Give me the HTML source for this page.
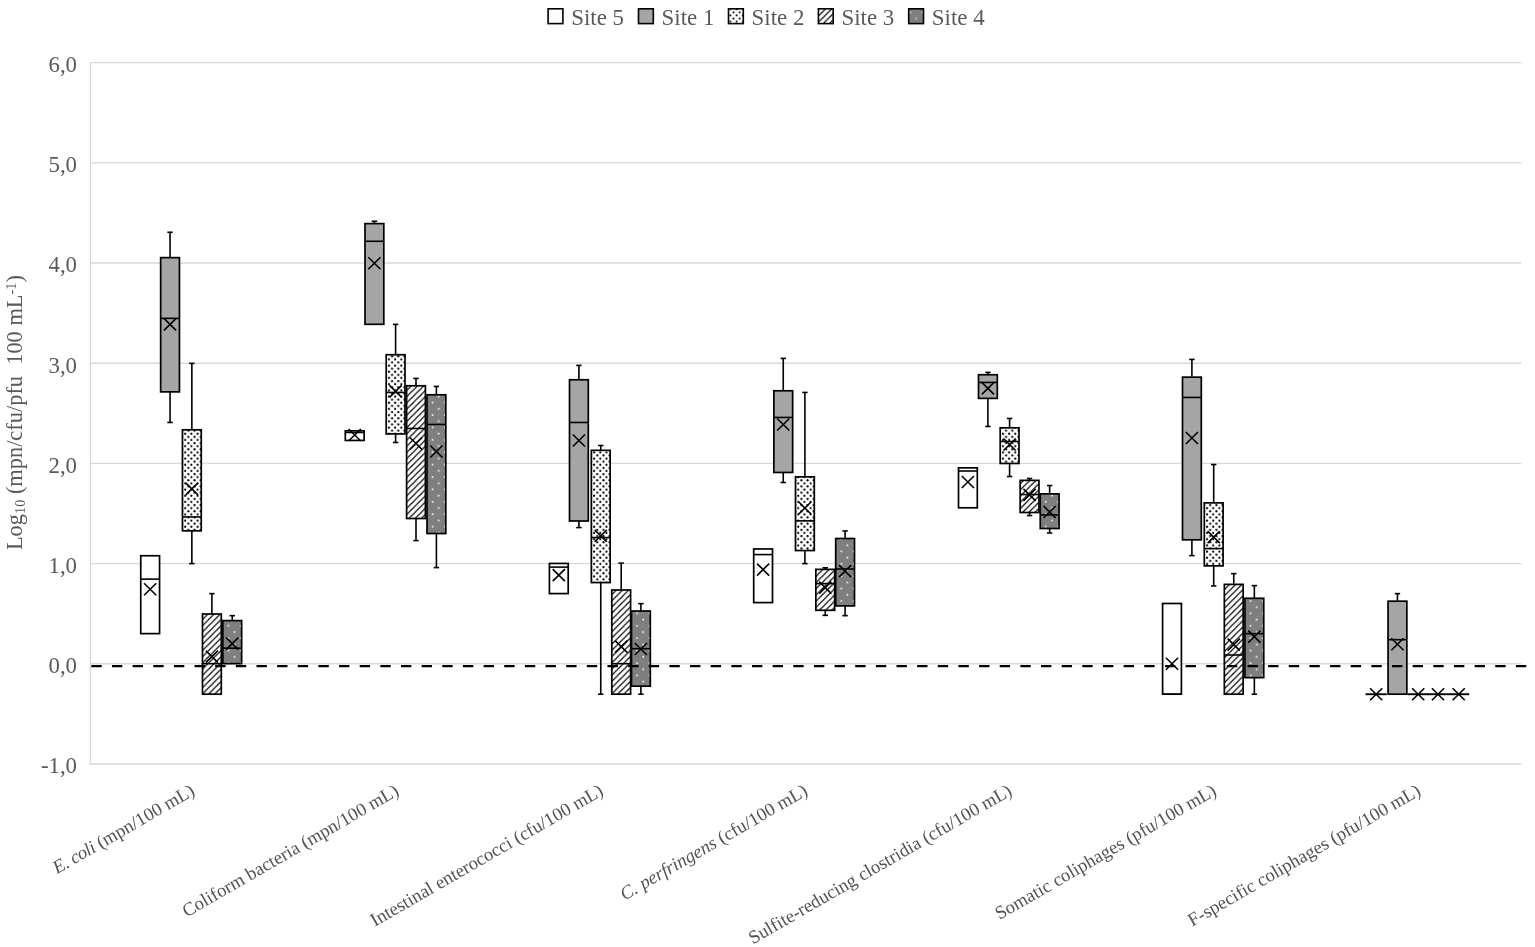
<!DOCTYPE html><html><head><meta charset="utf-8"><style>html,body{margin:0;padding:0;background:#fff;}svg{display:block;}</style></head><body>
<svg width="1535" height="947" viewBox="0 0 1535 947" font-family="'Liberation Serif', serif">
<defs>
<pattern id="pDots" patternUnits="userSpaceOnUse" width="6.2" height="6.2" x="727.7" y="8">
<rect width="6.2" height="6.2" fill="#fff"/>
<circle cx="2.7" cy="1.3" r="1" fill="#000"/><circle cx="5.8" cy="4.4" r="1" fill="#000"/><circle cx="-0.4" cy="4.4" r="1" fill="#000"/>
</pattern>
<pattern id="pHatch" patternUnits="userSpaceOnUse" width="6.2" height="6.2" x="0.1" y="-2.7">
<rect width="6.2" height="6.2" fill="#fff"/>
<path d="M-1.55,1.55 L1.55,-1.55 M0,6.2 L6.2,0 M4.65,7.75 L7.75,4.65" stroke="#000" stroke-width="1.15"/>
</pattern>
<pattern id="pGrey" patternUnits="userSpaceOnUse" width="12" height="12.4" x="908" y="8">
<rect width="12" height="12.4" fill="#7f7f7f"/>
<rect x="1.65" y="3.75" width="1.3" height="1.3" fill="#fff"/><rect x="7.65" y="9.95" width="1.3" height="1.3" fill="#fff"/>
</pattern>
</defs>
<rect width="1535" height="947" fill="#fff"/>
<line x1="90" y1="763.99" x2="1521.5" y2="763.99" stroke="#d9d9d9" stroke-width="1.4"/>
<line x1="90" y1="663.8" x2="1521.5" y2="663.8" stroke="#d9d9d9" stroke-width="1.4"/>
<line x1="90" y1="563.61" x2="1521.5" y2="563.61" stroke="#d9d9d9" stroke-width="1.4"/>
<line x1="90" y1="463.42" x2="1521.5" y2="463.42" stroke="#d9d9d9" stroke-width="1.4"/>
<line x1="90" y1="363.23" x2="1521.5" y2="363.23" stroke="#d9d9d9" stroke-width="1.4"/>
<line x1="90" y1="263.04" x2="1521.5" y2="263.04" stroke="#d9d9d9" stroke-width="1.4"/>
<line x1="90" y1="162.85" x2="1521.5" y2="162.85" stroke="#d9d9d9" stroke-width="1.4"/>
<line x1="90" y1="62.66" x2="1521.5" y2="62.66" stroke="#d9d9d9" stroke-width="1.4"/>
<line x1="90.4" y1="61.96" x2="90.4" y2="764.69" stroke="#d9d9d9" stroke-width="1.4"/>
<text x="77" y="773.29" text-anchor="end" font-size="22.8" fill="#595959">-1,0</text>
<text x="77" y="673.1" text-anchor="end" font-size="22.8" fill="#595959">0,0</text>
<text x="77" y="572.91" text-anchor="end" font-size="22.8" fill="#595959">1,0</text>
<text x="77" y="472.72" text-anchor="end" font-size="22.8" fill="#595959">2,0</text>
<text x="77" y="372.53" text-anchor="end" font-size="22.8" fill="#595959">3,0</text>
<text x="77" y="272.34" text-anchor="end" font-size="22.8" fill="#595959">4,0</text>
<text x="77" y="172.15" text-anchor="end" font-size="22.8" fill="#595959">5,0</text>
<text x="77" y="71.96" text-anchor="end" font-size="22.8" fill="#595959">6,0</text>
<rect x="140.75" y="555.74" width="18.8" height="77.88" fill="#ffffff" stroke="#000" stroke-width="1.7"/><line x1="140.75" y1="579.12" x2="159.55" y2="579.12" stroke="#000" stroke-width="1.6"/><path d="M144.05,583.23L156.25,595.23M144.05,595.23L156.25,583.23" stroke="#000" stroke-width="1.6" fill="none"/>
<line x1="170.05" y1="257.29" x2="170.05" y2="232.27" stroke="#000" stroke-width="1.6"/><line x1="167.35" y1="232.27" x2="172.75" y2="232.27" stroke="#000" stroke-width="1.6"/><line x1="170.05" y1="391.93" x2="170.05" y2="422.46" stroke="#000" stroke-width="1.6"/><line x1="167.35" y1="422.46" x2="172.75" y2="422.46" stroke="#000" stroke-width="1.6"/><rect x="160.65" y="257.64" width="18.8" height="134.23" fill="#a5a5a5" stroke="#000" stroke-width="1.7"/><line x1="160.65" y1="318.36" x2="179.45" y2="318.36" stroke="#000" stroke-width="1.6"/><path d="M163.95,318.36L176.15,330.36M163.95,330.36L176.15,318.36" stroke="#000" stroke-width="1.6" fill="none"/>
<pattern id="pd02" patternUnits="userSpaceOnUse" width="6.2" height="6.2" x="181.6" y="0"><rect width="6.2" height="6.2" fill="#fff"/><circle cx="3.6" cy="5.9" r="1.1" fill="#000"/><circle cx="3.6" cy="-0.3" r="1.1" fill="#000"/><circle cx="0.5" cy="2.8" r="1.1" fill="#000"/><circle cx="6.7" cy="2.8" r="1.1" fill="#000"/></pattern><line x1="191.85" y1="429.47" x2="191.85" y2="363.4" stroke="#000" stroke-width="1.6"/><line x1="189.15" y1="363.4" x2="194.55" y2="363.4" stroke="#000" stroke-width="1.6"/><line x1="191.85" y1="530.87" x2="191.85" y2="563.6" stroke="#000" stroke-width="1.6"/><line x1="189.15" y1="563.6" x2="194.55" y2="563.6" stroke="#000" stroke-width="1.6"/><rect x="182.45" y="429.82" width="18.8" height="101" fill="url(#pd02)" stroke="#000" stroke-width="1.7"/><line x1="182.45" y1="516.95" x2="201.25" y2="516.95" stroke="#000" stroke-width="1.6"/><path d="M185.75,482.83L197.95,494.83M185.75,494.83L197.95,482.83" stroke="#000" stroke-width="1.6" fill="none"/>
<line x1="211.9" y1="613.65" x2="211.9" y2="593.63" stroke="#000" stroke-width="1.6"/><line x1="209.2" y1="593.63" x2="214.6" y2="593.63" stroke="#000" stroke-width="1.6"/><rect x="202.5" y="614" width="18.8" height="80.18" fill="url(#pHatch)" stroke="#000" stroke-width="1.7"/><line x1="202.5" y1="663.7" x2="221.3" y2="663.7" stroke="#000" stroke-width="1.6"/><path d="M205.8,650.69L218,662.69M205.8,662.69L218,650.69" stroke="#000" stroke-width="1.6" fill="none"/>
<pattern id="pd04" patternUnits="userSpaceOnUse" width="12.4" height="12.4" x="222" y="0"><rect width="12.4" height="12.4" fill="#7f7f7f"/><rect x="5.6" y="5.05" width="1.6" height="1.6" fill="#fff"/><rect x="11.8" y="11.25" width="1.6" height="1.6" fill="#fff"/><rect x="-0.6" y="11.25" width="1.6" height="1.6" fill="#fff"/><rect x="11.8" y="-1.15" width="1.6" height="1.6" fill="#fff"/><rect x="-0.6" y="-1.15" width="1.6" height="1.6" fill="#fff"/></pattern><line x1="232.25" y1="620.26" x2="232.25" y2="615.65" stroke="#000" stroke-width="1.6"/><line x1="229.55" y1="615.65" x2="234.95" y2="615.65" stroke="#000" stroke-width="1.6"/><rect x="222.85" y="620.61" width="18.8" height="43.04" fill="url(#pd04)" stroke="#000" stroke-width="1.7"/><line x1="222.85" y1="648.18" x2="241.65" y2="648.18" stroke="#000" stroke-width="1.6"/><path d="M226.15,637.68L238.35,649.68M226.15,649.68L238.35,637.68" stroke="#000" stroke-width="1.6" fill="none"/>
<rect x="345.3" y="430.82" width="18.8" height="9.61" fill="#ffffff" stroke="#000" stroke-width="1.7"/><line x1="345.3" y1="432.47" x2="364.1" y2="432.47" stroke="#000" stroke-width="1.6"/><path d="M348.6,428.97L360.8,440.97M348.6,440.97L360.8,428.97" stroke="#000" stroke-width="1.6" fill="none"/>
<line x1="374.4" y1="223.26" x2="374.4" y2="221.26" stroke="#000" stroke-width="1.6"/><line x1="371.7" y1="221.26" x2="377.1" y2="221.26" stroke="#000" stroke-width="1.6"/><rect x="365" y="223.61" width="18.8" height="100.7" fill="#a5a5a5" stroke="#000" stroke-width="1.7"/><line x1="365" y1="241.28" x2="383.8" y2="241.28" stroke="#000" stroke-width="1.6"/><path d="M368.3,257.3L380.5,269.3M368.3,269.3L380.5,257.3" stroke="#000" stroke-width="1.6" fill="none"/>
<pattern id="pd12" patternUnits="userSpaceOnUse" width="6.2" height="6.2" x="385.35" y="0"><rect width="6.2" height="6.2" fill="#fff"/><circle cx="3.6" cy="5.9" r="1.1" fill="#000"/><circle cx="3.6" cy="-0.3" r="1.1" fill="#000"/><circle cx="0.5" cy="2.8" r="1.1" fill="#000"/><circle cx="6.7" cy="2.8" r="1.1" fill="#000"/></pattern><line x1="395.6" y1="354.39" x2="395.6" y2="324.36" stroke="#000" stroke-width="1.6"/><line x1="392.9" y1="324.36" x2="398.3" y2="324.36" stroke="#000" stroke-width="1.6"/><line x1="395.6" y1="433.97" x2="395.6" y2="442.48" stroke="#000" stroke-width="1.6"/><line x1="392.9" y1="442.48" x2="398.3" y2="442.48" stroke="#000" stroke-width="1.6"/><rect x="386.2" y="354.74" width="18.8" height="79.18" fill="url(#pd12)" stroke="#000" stroke-width="1.7"/><line x1="386.2" y1="392.43" x2="405" y2="392.43" stroke="#000" stroke-width="1.6"/><path d="M389.5,385.43L401.7,397.43M389.5,397.43L401.7,385.43" stroke="#000" stroke-width="1.6" fill="none"/>
<line x1="416" y1="385.42" x2="416" y2="378.42" stroke="#000" stroke-width="1.6"/><line x1="413.3" y1="378.42" x2="418.7" y2="378.42" stroke="#000" stroke-width="1.6"/><line x1="416" y1="518.56" x2="416" y2="540.58" stroke="#000" stroke-width="1.6"/><line x1="413.3" y1="540.58" x2="418.7" y2="540.58" stroke="#000" stroke-width="1.6"/><rect x="406.6" y="385.77" width="18.8" height="132.73" fill="url(#pHatch)" stroke="#000" stroke-width="1.7"/><line x1="406.6" y1="428.47" x2="425.4" y2="428.47" stroke="#000" stroke-width="1.6"/><path d="M409.9,437.48L422.1,449.48M409.9,449.48L422.1,437.48" stroke="#000" stroke-width="1.6" fill="none"/>
<pattern id="pd14" patternUnits="userSpaceOnUse" width="12.4" height="12.4" x="426.15" y="0"><rect width="12.4" height="12.4" fill="#7f7f7f"/><rect x="5.6" y="5.05" width="1.6" height="1.6" fill="#fff"/><rect x="11.8" y="11.25" width="1.6" height="1.6" fill="#fff"/><rect x="-0.6" y="11.25" width="1.6" height="1.6" fill="#fff"/><rect x="11.8" y="-1.15" width="1.6" height="1.6" fill="#fff"/><rect x="-0.6" y="-1.15" width="1.6" height="1.6" fill="#fff"/></pattern><line x1="436.4" y1="394.43" x2="436.4" y2="386.42" stroke="#000" stroke-width="1.6"/><line x1="433.7" y1="386.42" x2="439.1" y2="386.42" stroke="#000" stroke-width="1.6"/><line x1="436.4" y1="533.57" x2="436.4" y2="567.6" stroke="#000" stroke-width="1.6"/><line x1="433.7" y1="567.6" x2="439.1" y2="567.6" stroke="#000" stroke-width="1.6"/><rect x="427" y="394.78" width="18.8" height="138.74" fill="url(#pd14)" stroke="#000" stroke-width="1.7"/><line x1="427" y1="424.46" x2="445.8" y2="424.46" stroke="#000" stroke-width="1.6"/><path d="M430.3,445.49L442.5,457.49M430.3,457.49L442.5,445.49" stroke="#000" stroke-width="1.6" fill="none"/>
<rect x="549.4" y="563.45" width="18.8" height="30.13" fill="#ffffff" stroke="#000" stroke-width="1.7"/><line x1="549.4" y1="567.1" x2="568.2" y2="567.1" stroke="#000" stroke-width="1.6"/><path d="M552.7,569.11L564.9,581.11M552.7,581.11L564.9,569.11" stroke="#000" stroke-width="1.6" fill="none"/>
<line x1="578.9" y1="379.42" x2="578.9" y2="365.4" stroke="#000" stroke-width="1.6"/><line x1="576.2" y1="365.4" x2="581.6" y2="365.4" stroke="#000" stroke-width="1.6"/><line x1="578.9" y1="521.06" x2="578.9" y2="527.56" stroke="#000" stroke-width="1.6"/><line x1="576.2" y1="527.56" x2="581.6" y2="527.56" stroke="#000" stroke-width="1.6"/><rect x="569.5" y="379.77" width="18.8" height="141.24" fill="#a5a5a5" stroke="#000" stroke-width="1.7"/><line x1="569.5" y1="422.46" x2="588.3" y2="422.46" stroke="#000" stroke-width="1.6"/><path d="M572.8,434.48L585,446.48M572.8,446.48L585,434.48" stroke="#000" stroke-width="1.6" fill="none"/>
<pattern id="pd22" patternUnits="userSpaceOnUse" width="6.2" height="6.2" x="590.5" y="0"><rect width="6.2" height="6.2" fill="#fff"/><circle cx="3.6" cy="5.9" r="1.1" fill="#000"/><circle cx="3.6" cy="-0.3" r="1.1" fill="#000"/><circle cx="0.5" cy="2.8" r="1.1" fill="#000"/><circle cx="6.7" cy="2.8" r="1.1" fill="#000"/></pattern><line x1="600.75" y1="449.99" x2="600.75" y2="445.48" stroke="#000" stroke-width="1.6"/><line x1="598.05" y1="445.48" x2="603.45" y2="445.48" stroke="#000" stroke-width="1.6"/><line x1="600.75" y1="582.62" x2="600.75" y2="694.23" stroke="#000" stroke-width="1.6"/><line x1="598.05" y1="694.23" x2="603.45" y2="694.23" stroke="#000" stroke-width="1.6"/><rect x="591.35" y="450.34" width="18.8" height="132.23" fill="url(#pd22)" stroke="#000" stroke-width="1.7"/><line x1="591.35" y1="537.57" x2="610.15" y2="537.57" stroke="#000" stroke-width="1.6"/><path d="M594.65,529.87L606.85,541.87M594.65,541.87L606.85,529.87" stroke="#000" stroke-width="1.6" fill="none"/>
<line x1="621.2" y1="589.63" x2="621.2" y2="563.1" stroke="#000" stroke-width="1.6"/><line x1="618.5" y1="563.1" x2="623.9" y2="563.1" stroke="#000" stroke-width="1.6"/><rect x="611.8" y="589.98" width="18.8" height="104.2" fill="url(#pHatch)" stroke="#000" stroke-width="1.7"/><line x1="611.8" y1="663.7" x2="630.6" y2="663.7" stroke="#000" stroke-width="1.6"/><path d="M615.1,640.68L627.3,652.68M615.1,652.68L627.3,640.68" stroke="#000" stroke-width="1.6" fill="none"/>
<pattern id="pd24" patternUnits="userSpaceOnUse" width="12.4" height="12.4" x="630.65" y="0"><rect width="12.4" height="12.4" fill="#7f7f7f"/><rect x="5.6" y="5.05" width="1.6" height="1.6" fill="#fff"/><rect x="11.8" y="11.25" width="1.6" height="1.6" fill="#fff"/><rect x="-0.6" y="11.25" width="1.6" height="1.6" fill="#fff"/><rect x="11.8" y="-1.15" width="1.6" height="1.6" fill="#fff"/><rect x="-0.6" y="-1.15" width="1.6" height="1.6" fill="#fff"/></pattern><line x1="640.9" y1="610.65" x2="640.9" y2="603.64" stroke="#000" stroke-width="1.6"/><line x1="638.2" y1="603.64" x2="643.6" y2="603.64" stroke="#000" stroke-width="1.6"/><line x1="640.9" y1="686.22" x2="640.9" y2="694.23" stroke="#000" stroke-width="1.6"/><line x1="638.2" y1="694.23" x2="643.6" y2="694.23" stroke="#000" stroke-width="1.6"/><rect x="631.5" y="611" width="18.8" height="75.18" fill="url(#pd24)" stroke="#000" stroke-width="1.7"/><line x1="631.5" y1="648.69" x2="650.3" y2="648.69" stroke="#000" stroke-width="1.6"/><path d="M634.8,642.99L647,654.99M634.8,654.99L647,642.99" stroke="#000" stroke-width="1.6" fill="none"/>
<rect x="753.7" y="548.94" width="18.8" height="53.65" fill="#ffffff" stroke="#000" stroke-width="1.7"/><line x1="753.7" y1="554.59" x2="772.5" y2="554.59" stroke="#000" stroke-width="1.6"/><path d="M757,563.61L769.2,575.61M757,575.61L769.2,563.61" stroke="#000" stroke-width="1.6" fill="none"/>
<line x1="783.25" y1="390.43" x2="783.25" y2="358.4" stroke="#000" stroke-width="1.6"/><line x1="780.55" y1="358.4" x2="785.95" y2="358.4" stroke="#000" stroke-width="1.6"/><line x1="783.25" y1="472.51" x2="783.25" y2="482.52" stroke="#000" stroke-width="1.6"/><line x1="780.55" y1="482.52" x2="785.95" y2="482.52" stroke="#000" stroke-width="1.6"/><rect x="773.85" y="390.78" width="18.8" height="81.68" fill="#a5a5a5" stroke="#000" stroke-width="1.7"/><line x1="773.85" y1="417.45" x2="792.65" y2="417.45" stroke="#000" stroke-width="1.6"/><path d="M777.15,418.46L789.35,430.46M777.15,430.46L789.35,418.46" stroke="#000" stroke-width="1.6" fill="none"/>
<pattern id="pd32" patternUnits="userSpaceOnUse" width="6.2" height="6.2" x="794.65" y="0"><rect width="6.2" height="6.2" fill="#fff"/><circle cx="3.6" cy="5.9" r="1.1" fill="#000"/><circle cx="3.6" cy="-0.3" r="1.1" fill="#000"/><circle cx="0.5" cy="2.8" r="1.1" fill="#000"/><circle cx="6.7" cy="2.8" r="1.1" fill="#000"/></pattern><line x1="804.9" y1="476.51" x2="804.9" y2="392.43" stroke="#000" stroke-width="1.6"/><line x1="802.2" y1="392.43" x2="807.6" y2="392.43" stroke="#000" stroke-width="1.6"/><line x1="804.9" y1="550.59" x2="804.9" y2="563.6" stroke="#000" stroke-width="1.6"/><line x1="802.2" y1="563.6" x2="807.6" y2="563.6" stroke="#000" stroke-width="1.6"/><rect x="795.5" y="476.86" width="18.8" height="73.67" fill="url(#pd32)" stroke="#000" stroke-width="1.7"/><line x1="795.5" y1="520.86" x2="814.3" y2="520.86" stroke="#000" stroke-width="1.6"/><path d="M798.8,502.04L811,514.04M798.8,514.04L811,502.04" stroke="#000" stroke-width="1.6" fill="none"/>
<line x1="825.25" y1="569.01" x2="825.25" y2="567.8" stroke="#000" stroke-width="1.6"/><line x1="822.55" y1="567.8" x2="827.95" y2="567.8" stroke="#000" stroke-width="1.6"/><line x1="825.25" y1="610.35" x2="825.25" y2="615.35" stroke="#000" stroke-width="1.6"/><line x1="822.55" y1="615.35" x2="827.95" y2="615.35" stroke="#000" stroke-width="1.6"/><rect x="815.85" y="569.36" width="18.8" height="40.94" fill="url(#pHatch)" stroke="#000" stroke-width="1.7"/><line x1="815.85" y1="583.62" x2="834.65" y2="583.62" stroke="#000" stroke-width="1.6"/><path d="M819.15,581.62L831.35,593.62M819.15,593.62L831.35,581.62" stroke="#000" stroke-width="1.6" fill="none"/>
<pattern id="pd34" patternUnits="userSpaceOnUse" width="12.4" height="12.4" x="834.85" y="0"><rect width="12.4" height="12.4" fill="#7f7f7f"/><rect x="5.6" y="5.05" width="1.6" height="1.6" fill="#fff"/><rect x="11.8" y="11.25" width="1.6" height="1.6" fill="#fff"/><rect x="-0.6" y="11.25" width="1.6" height="1.6" fill="#fff"/><rect x="11.8" y="-1.15" width="1.6" height="1.6" fill="#fff"/><rect x="-0.6" y="-1.15" width="1.6" height="1.6" fill="#fff"/></pattern><line x1="845.1" y1="538.17" x2="845.1" y2="530.97" stroke="#000" stroke-width="1.6"/><line x1="842.4" y1="530.97" x2="847.8" y2="530.97" stroke="#000" stroke-width="1.6"/><line x1="845.1" y1="605.94" x2="845.1" y2="615.65" stroke="#000" stroke-width="1.6"/><line x1="842.4" y1="615.65" x2="847.8" y2="615.65" stroke="#000" stroke-width="1.6"/><rect x="835.7" y="538.52" width="18.8" height="67.37" fill="url(#pd34)" stroke="#000" stroke-width="1.7"/><line x1="835.7" y1="569.01" x2="854.5" y2="569.01" stroke="#000" stroke-width="1.6"/><path d="M839,565.11L851.2,577.11M839,577.11L851.2,565.11" stroke="#000" stroke-width="1.6" fill="none"/>
<rect x="958.5" y="467.85" width="18.8" height="39.94" fill="#ffffff" stroke="#000" stroke-width="1.7"/><line x1="958.5" y1="471.01" x2="977.3" y2="471.01" stroke="#000" stroke-width="1.6"/><path d="M961.8,476.02L974,488.02M961.8,488.02L974,476.02" stroke="#000" stroke-width="1.6" fill="none"/>
<line x1="987.9" y1="374.41" x2="987.9" y2="372.41" stroke="#000" stroke-width="1.6"/><line x1="985.2" y1="372.41" x2="990.6" y2="372.41" stroke="#000" stroke-width="1.6"/><line x1="987.9" y1="398.44" x2="987.9" y2="426.46" stroke="#000" stroke-width="1.6"/><line x1="985.2" y1="426.46" x2="990.6" y2="426.46" stroke="#000" stroke-width="1.6"/><rect x="978.5" y="374.76" width="18.8" height="23.62" fill="#a5a5a5" stroke="#000" stroke-width="1.7"/><line x1="978.5" y1="382.42" x2="997.3" y2="382.42" stroke="#000" stroke-width="1.6"/><path d="M981.8,382.43L994,394.43M981.8,394.43L994,382.43" stroke="#000" stroke-width="1.6" fill="none"/>
<pattern id="pd42" patternUnits="userSpaceOnUse" width="6.2" height="6.2" x="999.35" y="0"><rect width="6.2" height="6.2" fill="#fff"/><circle cx="3.6" cy="5.9" r="1.1" fill="#000"/><circle cx="3.6" cy="-0.3" r="1.1" fill="#000"/><circle cx="0.5" cy="2.8" r="1.1" fill="#000"/><circle cx="6.7" cy="2.8" r="1.1" fill="#000"/></pattern><line x1="1009.6" y1="427.46" x2="1009.6" y2="418.46" stroke="#000" stroke-width="1.6"/><line x1="1006.9" y1="418.46" x2="1012.3" y2="418.46" stroke="#000" stroke-width="1.6"/><line x1="1009.6" y1="463.5" x2="1009.6" y2="476.51" stroke="#000" stroke-width="1.6"/><line x1="1006.9" y1="476.51" x2="1012.3" y2="476.51" stroke="#000" stroke-width="1.6"/><rect x="1000.2" y="427.81" width="18.8" height="35.64" fill="url(#pd42)" stroke="#000" stroke-width="1.7"/><line x1="1000.2" y1="441.48" x2="1019" y2="441.48" stroke="#000" stroke-width="1.6"/><path d="M1003.5,438.48L1015.7,450.48M1003.5,450.48L1015.7,438.48" stroke="#000" stroke-width="1.6" fill="none"/>
<line x1="1029.55" y1="480.02" x2="1029.55" y2="478.52" stroke="#000" stroke-width="1.6"/><line x1="1026.85" y1="478.52" x2="1032.25" y2="478.52" stroke="#000" stroke-width="1.6"/><line x1="1029.55" y1="512.55" x2="1029.55" y2="515.55" stroke="#000" stroke-width="1.6"/><line x1="1026.85" y1="515.55" x2="1032.25" y2="515.55" stroke="#000" stroke-width="1.6"/><rect x="1020.15" y="480.37" width="18.8" height="32.13" fill="url(#pHatch)" stroke="#000" stroke-width="1.7"/><line x1="1020.15" y1="494.53" x2="1038.95" y2="494.53" stroke="#000" stroke-width="1.6"/><path d="M1023.45,488.83L1035.65,500.83M1023.45,500.83L1035.65,488.83" stroke="#000" stroke-width="1.6" fill="none"/>
<pattern id="pd44" patternUnits="userSpaceOnUse" width="12.4" height="12.4" x="1039.4" y="0"><rect width="12.4" height="12.4" fill="#7f7f7f"/><rect x="5.6" y="5.05" width="1.6" height="1.6" fill="#fff"/><rect x="11.8" y="11.25" width="1.6" height="1.6" fill="#fff"/><rect x="-0.6" y="11.25" width="1.6" height="1.6" fill="#fff"/><rect x="11.8" y="-1.15" width="1.6" height="1.6" fill="#fff"/><rect x="-0.6" y="-1.15" width="1.6" height="1.6" fill="#fff"/></pattern><line x1="1049.65" y1="493.53" x2="1049.65" y2="485.52" stroke="#000" stroke-width="1.6"/><line x1="1046.95" y1="485.52" x2="1052.35" y2="485.52" stroke="#000" stroke-width="1.6"/><line x1="1049.65" y1="528.57" x2="1049.65" y2="532.97" stroke="#000" stroke-width="1.6"/><line x1="1046.95" y1="532.97" x2="1052.35" y2="532.97" stroke="#000" stroke-width="1.6"/><rect x="1040.25" y="493.88" width="18.8" height="34.63" fill="url(#pd44)" stroke="#000" stroke-width="1.7"/><line x1="1040.25" y1="514.85" x2="1059.05" y2="514.85" stroke="#000" stroke-width="1.6"/><path d="M1043.55,505.95L1055.75,517.95M1043.55,517.95L1055.75,505.95" stroke="#000" stroke-width="1.6" fill="none"/>
<rect x="1162.6" y="603.49" width="18.8" height="90.69" fill="#ffffff" stroke="#000" stroke-width="1.7"/><line x1="1162.6" y1="694.23" x2="1181.4" y2="694.23" stroke="#000" stroke-width="1.6"/><path d="M1165.9,657.7L1178.1,669.7M1165.9,669.7L1178.1,657.7" stroke="#000" stroke-width="1.6" fill="none"/>
<line x1="1191.9" y1="376.81" x2="1191.9" y2="359.4" stroke="#000" stroke-width="1.6"/><line x1="1189.2" y1="359.4" x2="1194.6" y2="359.4" stroke="#000" stroke-width="1.6"/><line x1="1191.9" y1="539.88" x2="1191.9" y2="555.59" stroke="#000" stroke-width="1.6"/><line x1="1189.2" y1="555.59" x2="1194.6" y2="555.59" stroke="#000" stroke-width="1.6"/><rect x="1182.5" y="377.16" width="18.8" height="162.66" fill="#a5a5a5" stroke="#000" stroke-width="1.7"/><line x1="1182.5" y1="397.43" x2="1201.3" y2="397.43" stroke="#000" stroke-width="1.6"/><path d="M1185.8,431.97L1198,443.97M1185.8,443.97L1198,431.97" stroke="#000" stroke-width="1.6" fill="none"/>
<pattern id="pd52" patternUnits="userSpaceOnUse" width="6.2" height="6.2" x="1203.45" y="0"><rect width="6.2" height="6.2" fill="#fff"/><circle cx="3.6" cy="5.9" r="1.1" fill="#000"/><circle cx="3.6" cy="-0.3" r="1.1" fill="#000"/><circle cx="0.5" cy="2.8" r="1.1" fill="#000"/><circle cx="6.7" cy="2.8" r="1.1" fill="#000"/></pattern><line x1="1213.7" y1="502.54" x2="1213.7" y2="464.5" stroke="#000" stroke-width="1.6"/><line x1="1211" y1="464.5" x2="1216.4" y2="464.5" stroke="#000" stroke-width="1.6"/><line x1="1213.7" y1="565.9" x2="1213.7" y2="585.92" stroke="#000" stroke-width="1.6"/><line x1="1211" y1="585.92" x2="1216.4" y2="585.92" stroke="#000" stroke-width="1.6"/><rect x="1204.3" y="502.89" width="18.8" height="62.96" fill="url(#pd52)" stroke="#000" stroke-width="1.7"/><line x1="1204.3" y1="548.59" x2="1223.1" y2="548.59" stroke="#000" stroke-width="1.6"/><path d="M1207.6,531.07L1219.8,543.07M1207.6,543.07L1219.8,531.07" stroke="#000" stroke-width="1.6" fill="none"/>
<line x1="1233.75" y1="584.02" x2="1233.75" y2="573.61" stroke="#000" stroke-width="1.6"/><line x1="1231.05" y1="573.61" x2="1236.45" y2="573.61" stroke="#000" stroke-width="1.6"/><rect x="1224.35" y="584.37" width="18.8" height="109.81" fill="url(#pHatch)" stroke="#000" stroke-width="1.7"/><line x1="1224.35" y1="654.99" x2="1243.15" y2="654.99" stroke="#000" stroke-width="1.6"/><path d="M1227.65,638.68L1239.85,650.68M1227.65,650.68L1239.85,638.68" stroke="#000" stroke-width="1.6" fill="none"/>
<pattern id="pd54" patternUnits="userSpaceOnUse" width="12.4" height="12.4" x="1244.1" y="0"><rect width="12.4" height="12.4" fill="#7f7f7f"/><rect x="5.6" y="5.05" width="1.6" height="1.6" fill="#fff"/><rect x="11.8" y="11.25" width="1.6" height="1.6" fill="#fff"/><rect x="-0.6" y="11.25" width="1.6" height="1.6" fill="#fff"/><rect x="11.8" y="-1.15" width="1.6" height="1.6" fill="#fff"/><rect x="-0.6" y="-1.15" width="1.6" height="1.6" fill="#fff"/></pattern><line x1="1254.35" y1="597.93" x2="1254.35" y2="585.62" stroke="#000" stroke-width="1.6"/><line x1="1251.65" y1="585.62" x2="1257.05" y2="585.62" stroke="#000" stroke-width="1.6"/><line x1="1254.35" y1="677.71" x2="1254.35" y2="694.23" stroke="#000" stroke-width="1.6"/><line x1="1251.65" y1="694.23" x2="1257.05" y2="694.23" stroke="#000" stroke-width="1.6"/><rect x="1244.95" y="598.28" width="18.8" height="79.38" fill="url(#pd54)" stroke="#000" stroke-width="1.7"/><line x1="1244.95" y1="633.67" x2="1263.75" y2="633.67" stroke="#000" stroke-width="1.6"/><path d="M1248.25,630.67L1260.45,642.67M1248.25,642.67L1260.45,630.67" stroke="#000" stroke-width="1.6" fill="none"/>
<line x1="1365.6" y1="694.23" x2="1386.7" y2="694.23" stroke="#000" stroke-width="1.9"/><path d="M1370.05,688.23L1382.25,700.23M1370.05,700.23L1382.25,688.23" stroke="#000" stroke-width="1.6" fill="none"/>
<line x1="1397.45" y1="600.84" x2="1397.45" y2="593.63" stroke="#000" stroke-width="1.6"/><line x1="1394.75" y1="593.63" x2="1400.15" y2="593.63" stroke="#000" stroke-width="1.6"/><rect x="1388.05" y="601.19" width="18.8" height="92.99" fill="#a5a5a5" stroke="#000" stroke-width="1.7"/><line x1="1388.05" y1="639.68" x2="1406.85" y2="639.68" stroke="#000" stroke-width="1.6"/><path d="M1391.35,638.28L1403.55,650.28M1391.35,650.28L1403.55,638.28" stroke="#000" stroke-width="1.6" fill="none"/>
<pattern id="pd62" patternUnits="userSpaceOnUse" width="6.2" height="6.2" x="1407.95" y="0"><rect width="6.2" height="6.2" fill="#fff"/><circle cx="3.6" cy="5.9" r="1.1" fill="#000"/><circle cx="3.6" cy="-0.3" r="1.1" fill="#000"/><circle cx="0.5" cy="2.8" r="1.1" fill="#000"/><circle cx="6.7" cy="2.8" r="1.1" fill="#000"/></pattern><line x1="1407.65" y1="694.23" x2="1428.75" y2="694.23" stroke="#000" stroke-width="1.9"/><path d="M1412.1,688.23L1424.3,700.23M1412.1,700.23L1424.3,688.23" stroke="#000" stroke-width="1.6" fill="none"/>
<line x1="1427.45" y1="694.23" x2="1448.55" y2="694.23" stroke="#000" stroke-width="1.9"/><path d="M1431.9,688.23L1444.1,700.23M1431.9,700.23L1444.1,688.23" stroke="#000" stroke-width="1.6" fill="none"/>
<pattern id="pd64" patternUnits="userSpaceOnUse" width="12.4" height="12.4" x="1448.45" y="0"><rect width="12.4" height="12.4" fill="#7f7f7f"/><rect x="5.6" y="5.05" width="1.6" height="1.6" fill="#fff"/><rect x="11.8" y="11.25" width="1.6" height="1.6" fill="#fff"/><rect x="-0.6" y="11.25" width="1.6" height="1.6" fill="#fff"/><rect x="11.8" y="-1.15" width="1.6" height="1.6" fill="#fff"/><rect x="-0.6" y="-1.15" width="1.6" height="1.6" fill="#fff"/></pattern><line x1="1448.15" y1="694.23" x2="1469.25" y2="694.23" stroke="#000" stroke-width="1.9"/><path d="M1452.6,688.23L1464.8,700.23M1452.6,700.23L1464.8,688.23" stroke="#000" stroke-width="1.6" fill="none"/>
<line x1="91.3" y1="666.1" x2="1527" y2="666.1" stroke="#000" stroke-width="2.2" stroke-dasharray="10.4 10.246"/>
<text transform="translate(189.3,783) rotate(-30)" x="0" y="13" text-anchor="end" font-size="18.7" fill="#525252"><tspan font-style="italic" letter-spacing="-0.4">E. coli</tspan> (mpn/100 mL)</text>
<text transform="translate(393.65,783) rotate(-30)" x="0" y="13" text-anchor="end" font-size="18.7" fill="#525252">Coliform bacteria (mpn/100 mL)</text>
<text transform="translate(598,783) rotate(-30)" x="0" y="13" text-anchor="end" font-size="18.7" fill="#525252">Intestinal enterococci (cfu/100 mL)</text>
<text transform="translate(802.35,783) rotate(-30)" x="0" y="13" text-anchor="end" font-size="18.7" fill="#525252"><tspan font-style="italic">C. perfringens</tspan> (cfu/100 mL)</text>
<text transform="translate(1006.7,783) rotate(-30)" x="0" y="13" text-anchor="end" font-size="18.7" fill="#525252">Sulfite-reducing clostridia (cfu/100 mL)</text>
<text transform="translate(1211.05,783) rotate(-30)" x="0" y="13" text-anchor="end" font-size="18.7" fill="#525252">Somatic coliphages (pfu/100 mL)</text>
<text transform="translate(1415.4,783) rotate(-30)" x="0" y="13" text-anchor="end" font-size="18.7" fill="#525252">F-specific coliphages (pfu/100 mL)</text>
<text transform="translate(22.2,412.6) rotate(-90)" text-anchor="middle" font-size="22.4" fill="#595959">Log<tspan font-size="14.3" dy="3">10</tspan><tspan dy="-3"> (mpn/cfu/pfu&#160; 100 mL</tspan><tspan font-size="14.3" dy="-6.5">-1</tspan><tspan dy="6.5">)</tspan></text>
<rect x="548.1" y="8.8" width="14.8" height="14.8" fill="#ffffff" stroke="#000" stroke-width="1.6"/>
<text x="571.2" y="25" font-size="22.9" fill="#595959">Site 5</text>
<rect x="638.5" y="8.8" width="14.8" height="14.8" fill="#a5a5a5" stroke="#000" stroke-width="1.6"/>
<text x="661.6" y="25" font-size="22.9" fill="#595959">Site 1</text>
<rect x="728.5" y="8.8" width="14.8" height="14.8" fill="url(#pDots)" stroke="#000" stroke-width="1.6"/>
<text x="751.6" y="25" font-size="22.9" fill="#595959">Site 2</text>
<rect x="818.4" y="8.8" width="14.8" height="14.8" fill="url(#pHatch)" stroke="#000" stroke-width="1.6"/>
<text x="841.5" y="25" font-size="22.9" fill="#595959">Site 3</text>
<rect x="908.7" y="8.8" width="14.8" height="14.8" fill="url(#pGrey)" stroke="#000" stroke-width="1.6"/>
<text x="931.8" y="25" font-size="22.9" fill="#595959">Site 4</text>
</svg></body></html>
